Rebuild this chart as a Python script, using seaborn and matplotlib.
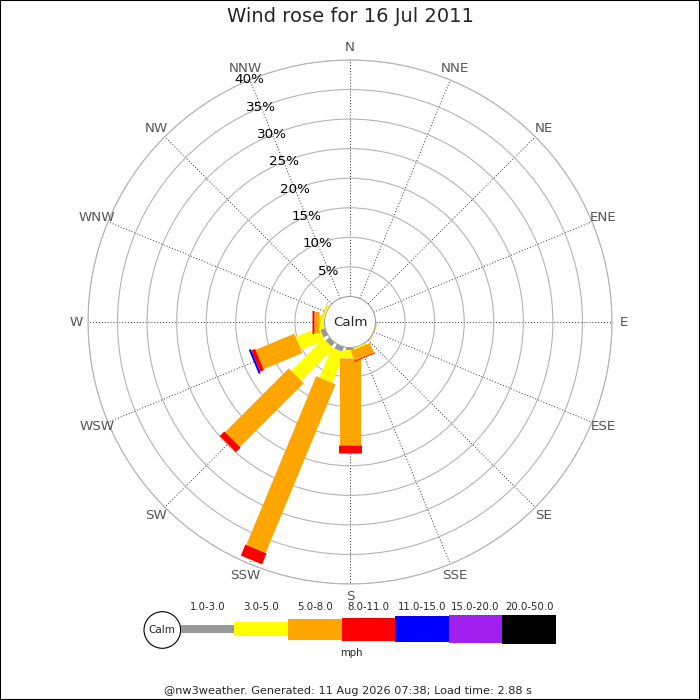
"""
Wind rose for one day, redrawn with matplotlib + seaborn.
"""

import numpy as np
import matplotlib
matplotlib.use("Agg")
import matplotlib.pyplot as plt
from matplotlib.patches import Circle, Rectangle
import seaborn as sns

# --- data ---------------------------------------------------------------
directions = ["N", "NNE", "NE", "ENE", "E", "ESE", "SE", "SSE",
              "S", "SSW", "SW", "WSW", "W", "WNW", "NW", "NNW"]
speed_bins = ["1.0-3.0", "3.0-5.0", "5.0-8.0", "8.0-11.0",
              "11.0-15.0", "15.0-20.0", "20.0-50.0"]

# percentage of time per direction, one list per speed band
#             N  NNE NE ENE E  ESE   SE  SSE   S      SSW   SW     WSW   W     WNW   NW NNW
pct_1_3   = [0, 0, 0, 0, 0, 0,    0, 0,    0.5,   0.85, 0.85,  0.85, 0,    0,    0, 0]
pct_3_5   = [0, 0, 0, 0, 0, 0,    0, 0.25, 1.3,   5.5,  7.7,   4.3,  0.9,  0.35, 0, 0]
pct_5_8   = [0, 0, 0, 0, 0, 0.1,  0, 1.8,  14.75, 30.9, 15.25, 7.1,  0.85, 0.1,  0, 0]
pct_8_11  = [0, 0, 0, 0, 0, 0,    0, 0.15, 1.25,  2.0,  1.1,   0.7,  0.3,  0,    0, 0]
pct_11_15 = [0, 0, 0, 0, 0, 0,    0, 0,    0,     0,    0,     0.35, 0,    0,    0, 0]
pct_15_20 = [0, 0, 0, 0, 0, 0,    0, 0,    0,     0,    0,     0,    0,    0,    0, 0]
pct_20_50 = [0, 0, 0, 0, 0, 0,    0, 0,    0,     0,    0,     0,    0,    0,    0, 0]

ring_ticks = [5, 10, 15, 20, 25, 30, 35, 40]

# --- style --------------------------------------------------------------
sns.set_style("white")
plt.rcParams["font.family"] = ["DejaVu Sans"]

band_colors = sns.color_palette(["#999999", "#ffff00", "#ffa500", "#ff0000",
                                 "#0000ff", "#a020f0", "#000000"])
band_width_px = [8, 14, 21, 23, 26, 28, 29]
px = 0.72  # points per pixel at dpi 100

bands = [pct_1_3, pct_3_5, pct_5_8, pct_8_11, pct_11_15, pct_15_20, pct_20_50]

fig = plt.figure(figsize=(7, 7), dpi=100)
fig.patch.set_facecolor("white")

# polar axes: centre at (350, 322) px, outer ring radius 262 px
ax = fig.add_axes([88 / 700, 116 / 700, 524 / 700, 524 / 700], projection="polar")
ax.set_theta_zero_location("N")
ax.set_theta_direction(-1)
ax.set_ylim(0, 40)
ax.set_rorigin(-4.32)

thetas = np.deg2rad(np.arange(16) * 22.5)
ax.set_xticks(thetas)
ax.set_xticklabels([])
ax.set_yticks(ring_ticks)
ax.set_yticklabels([])
ax.xaxis.grid(True, linestyle=(0, (1, 2)), color="#333333", linewidth=0.7)
ax.yaxis.grid(True, linestyle="-", color="#b4b4b4", linewidth=0.8)
ax.spines["polar"].set_color("#b4b4b4")
ax.spines["polar"].set_linewidth(0.8)
ax.spines["inner"].set_color("#a0a0a0")
ax.spines["inner"].set_linewidth(0.8)
ax.tick_params(length=0)

# legs: one butt-capped thick line per speed band
for d, th in enumerate(thetas):
    start = 0.0
    for b, vals in enumerate(bands):
        v = vals[d]
        if v <= 0:
            continue
        ax.plot([th, th], [start, start + v], color=band_colors[b],
                linewidth=band_width_px[b] * px, solid_capstyle="butt",
                zorder=3 + b * 0.01)
        start += v

# ring labels along the NNW spoke
nnw = np.deg2rad(337.5)
for p in ring_ticks:
    ax.text(nnw, p, f"{p}%", ha="center", va="center", fontsize=9.7,
            color="black", zorder=5)

# compass labels
for th, name in zip(thetas, directions):
    ax.text(th, 42.05, name, ha="center", va="center", fontsize=9.6,
            color="#555555", clip_on=False)

fig.text(351 / 700, 1 - 322 / 700, "Calm", ha="center", va="center", fontsize=9.6)
fig.text(0.5, 1 - 17 / 700, "Wind rose for 16 Jul 2011", ha="center",
         va="center", fontsize=14)

# --- legend strip -------------------------------------------------------
lax = fig.add_axes([140 / 700, 40 / 700, 420 / 700, 60 / 700])
lax.set_xlim(140, 560)
lax.set_ylim(660, 600)
lax.set_aspect("equal")
lax.axis("off")

lax.add_patch(Circle((162.3, 630), 18.3, facecolor="white", edgecolor="black",
                     linewidth=0.8))
lax.text(162.3, 630, "Calm", ha="center", va="center", fontsize=7.5)
cell_w = 53.6
for i, label in enumerate(speed_bins):
    x0 = 180.7 + i * cell_w
    h = band_width_px[i]
    lax.bar(x0, h, bottom=629 - h / 2, width=cell_w, align="edge",
            color=band_colors[i], linewidth=0)
    lax.text(x0 + cell_w / 2, 607, label, ha="center", va="center", fontsize=7.3)
lax.text(351, 653, "mph", ha="center", va="center", fontsize=7.3)

fig.text(348 / 700, 1 - 691 / 700,
         "@nw3weather. Generated: 11 Aug 2026 07:38; Load time: 2.88 s",
         ha="center", va="center", fontsize=8.1)

fig.patches.append(Rectangle((0, 0), 1, 1, transform=fig.transFigure,
                             fill=False, edgecolor="black", linewidth=1.5))

fig.savefig("out.png", dpi=100)
